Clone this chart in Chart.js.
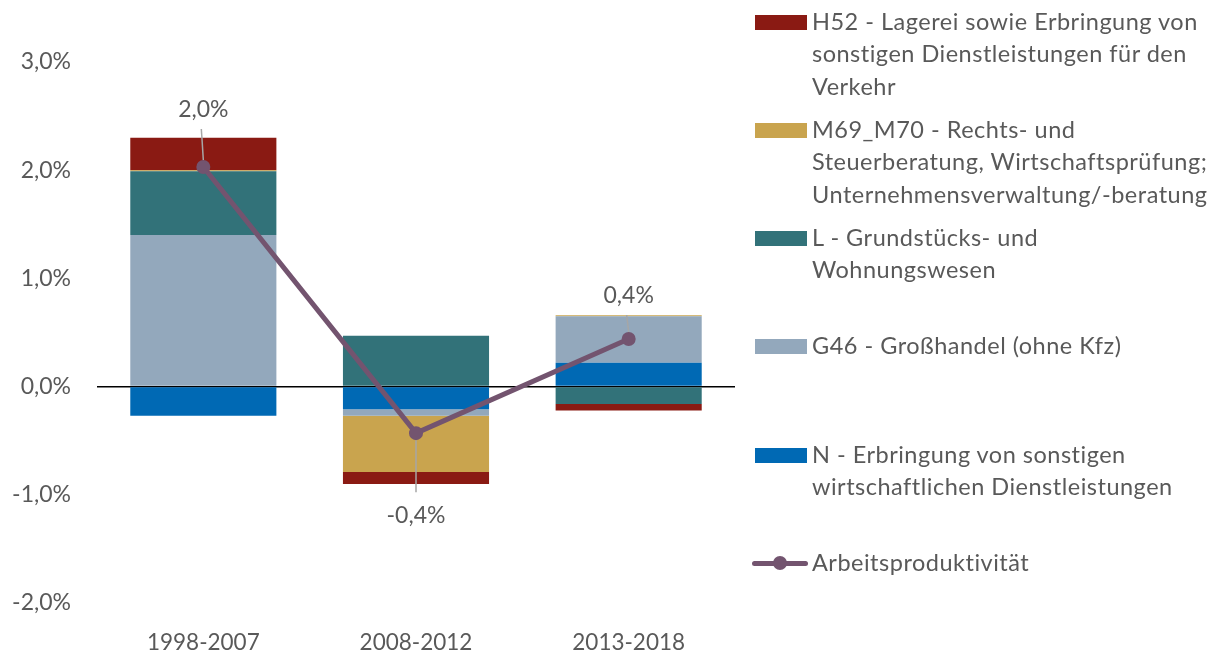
<!DOCTYPE html>
<html><head><meta charset="utf-8">
<script src="https://cdn.jsdelivr.net/npm/chart.js@4.4.1/dist/chart.umd.min.js"></script>
<style>
html,body{margin:0;padding:0;background:#fff;}
#wrap{position:relative;width:1217px;height:650px;overflow:hidden;}
#c{position:absolute;left:0;top:0;}
.lgtext{position:absolute;font-family:Lato,sans-serif;color:#595959;white-space:nowrap;}
.sw{position:absolute;}
</style></head><body>
<div id="wrap"><canvas id="c" width="1217" height="650"></canvas><div id="legend"></div></div>
<script>
// ---- data ----
const categories = ['1998-2007', '2008-2012', '2013-2018'];
const valuesN   = [-0.27, -0.21, 0.22];
const valuesG46 = [1.40, -0.06, 0.43];
const valuesL   = [0.59, 0.47, -0.16];
const valuesM69 = [0.01, -0.52, 0.01];
const valuesH52 = [0.30, -0.11, -0.06];
const valuesProductivity = [2.03, -0.43, 0.44];
const yTickValues = [-2, -1, 0, 1, 2, 3];

const nameN   = 'N - Erbringung von sonstigen wirtschaftlichen Dienstleistungen';
const nameG46 = 'G46 - Großhandel (ohne Kfz)';
const nameL   = 'L - Grundstücks- und Wohnungswesen';
const nameM69 = 'M69_M70 - Rechts- und Steuerberatung, Wirtschaftsprüfung; Unternehmensverwaltung/-beratung';
const nameH52 = 'H52 - Lagerei sowie Erbringung von sonstigen Dienstleistungen für den Verkehr';
const nameProd = 'Arbeitsproduktivität';

const legendLinesH52 = ['H52 - Lagerei sowie Erbringung von', 'sonstigen Dienstleistungen für den', 'Verkehr'];
const legendLinesM69 = ['M69_M70 - Rechts- und', 'Steuerberatung, Wirtschaftsprüfung;', 'Unternehmensverwaltung/-beratung'];
const legendLinesL   = ['L - Grundstücks- und', 'Wohnungswesen'];
const legendLinesG46 = ['G46 - Großhandel (ohne Kfz)'];
const legendLinesN   = ['N - Erbringung von sonstigen', 'wirtschaftlichen Dienstleistungen'];
const legendLinesProd = ['Arbeitsproduktivität'];

// ---- styles ----
const COLORS = { N:'#0069B4', G46:'#93A8BC', L:'#327279', M69:'#C9A44E', H52:'#8A1A13', prod:'#73546F' };
const TEXT = '#595959';
const FONT = 'Lato, sans-serif';
const Y_FONT_SIZE = 23;
const X_FONT_SIZE = 22.5;
const LABEL_FONT_SIZE = 23;
const LEGEND_FONT_SIZE = 23.5;
const LEGEND_LETTER_SPACING = 0.5;
const LABEL_OFFSETS = [-57, 82, -43];

const fmt = v => v.toFixed(1).replace('.', ',') + '%';

const labelPlugin = {
  id: 'lineLabels',
  afterDatasetsDraw(chart) {
    const idx = chart.data.datasets.findIndex(d => d.type === 'line');
    const meta = chart.getDatasetMeta(idx);
    const ctx = chart.ctx;
    ctx.save();
    meta.data.forEach((pt, i) => {
      const off = LABEL_OFFSETS[i];
      const ly = pt.y + off;
      const above = off < 0;
      ctx.strokeStyle = '#A6A6A6';
      ctx.lineWidth = 1.5;
      ctx.beginPath();
      if (above) { ctx.moveTo(pt.x - 2, ly + 19); ctx.lineTo(pt.x, pt.y - 7); }
      else { ctx.moveTo(pt.x, pt.y + 7); ctx.lineTo(pt.x, ly - 23); }
      ctx.stroke();
      ctx.fillStyle = TEXT;
      ctx.font = LABEL_FONT_SIZE + 'px ' + FONT;
      ctx.textAlign = 'center';
      ctx.textBaseline = 'middle';
      ctx.fillText(fmt(chart.data.datasets[idx].data[i]), pt.x, ly);
    });
    ctx.restore();
  }
};

const barDs = (label, data, color) => ({ type:'bar', label, data, backgroundColor: color, borderWidth: 0, stack: 's', order: 1, barPercentage: 0.687, categoryPercentage: 1 });

new Chart(document.getElementById('c'), {
  data: {
    labels: categories,
    datasets: [
      { type:'line', label: nameProd, data: valuesProductivity, borderColor: COLORS.prod, backgroundColor: COLORS.prod,
        borderWidth: 5, pointRadius: 7, pointBackgroundColor: COLORS.prod, pointBorderWidth: 0, tension: 0, stack: 'line', order: 0 },
      barDs(nameN, valuesN, COLORS.N),
      barDs(nameG46, valuesG46, COLORS.G46),
      barDs(nameL, valuesL, COLORS.L),
      barDs(nameM69, valuesM69, COLORS.M69),
      barDs(nameH52, valuesH52, COLORS.H52)
    ]
  },
  options: {
    responsive: false, animation: false, devicePixelRatio: 1,
    layout: { padding: { top: 62, right: 482, left: 0, bottom: 0 } },
    plugins: { legend: { display: false }, tooltip: { enabled: false } },
    scales: {
      x: { stacked: true, offset: true,
           grid: { display: false }, border: { display: false },
           ticks: { color: TEXT, font: { family: FONT, size: X_FONT_SIZE }, padding: 18 },
           afterFit: s => { s.height = 47; } },
      y: { stacked: true, min: yTickValues[0], max: yTickValues[yTickValues.length - 1],
           afterBuildTicks: s => { s.ticks = yTickValues.map(v => ({ value: v })); },
           grid: { drawTicks: false, lineWidth: 1.5, color: c => (c.tick && c.tick.value === 0) ? '#000000' : 'rgba(0,0,0,0)' },
           border: { display: false },
           ticks: { color: TEXT, font: { family: FONT, size: Y_FONT_SIZE }, padding: 26, callback: v => fmt(v) },
           afterFit: s => { s.width = 97; } }
    }
  },
  plugins: [labelPlugin]
});

// ---- HTML legend ----
const legendItems = [
  { lines: legendLinesH52, color: COLORS.H52, top: 22 },
  { lines: legendLinesM69, color: COLORS.M69, top: 130 },
  { lines: legendLinesL,   color: COLORS.L,   top: 238 },
  { lines: legendLinesG46, color: COLORS.G46, top: 346 },
  { lines: legendLinesN,   color: COLORS.N,   top: 455 },
  { lines: legendLinesProd, color: COLORS.prod, top: 563, line: true }
];
const LH = 32.3;
const lg = document.getElementById('legend');
legendItems.forEach(it => {
  if (it.line) {
    const l = document.createElement('div');
    l.className = 'sw';
    Object.assign(l.style, { left: '752px', top: (it.top - 2.5) + 'px', width: '56px', height: '5px', background: it.color, borderRadius: '3px' });
    lg.appendChild(l);
    const d = document.createElement('div');
    d.className = 'sw';
    Object.assign(d.style, { left: '773px', top: (it.top - 7) + 'px', width: '14px', height: '14px', background: it.color, borderRadius: '50%' });
    lg.appendChild(d);
  } else {
    const s = document.createElement('div');
    s.className = 'sw';
    Object.assign(s.style, { left: '755px', top: (it.top - 7.5) + 'px', width: '52px', height: '15px', background: it.color });
    lg.appendChild(s);
  }
  const t = document.createElement('div');
  t.className = 'lgtext';
  t.style.left = '812px';
  t.style.top = (it.top - LH / 2 - 0.03 * LEGEND_FONT_SIZE) + 'px';
  t.style.fontSize = LEGEND_FONT_SIZE + 'px';
  t.style.letterSpacing = LEGEND_LETTER_SPACING + 'px';
  t.style.lineHeight = LH + 'px';
  t.innerHTML = it.lines.map(s => s.replace(/&/g,'&amp;').replace(/</g,'&lt;')).join('<br>');
  lg.appendChild(t);
});
</script>
</body></html>
